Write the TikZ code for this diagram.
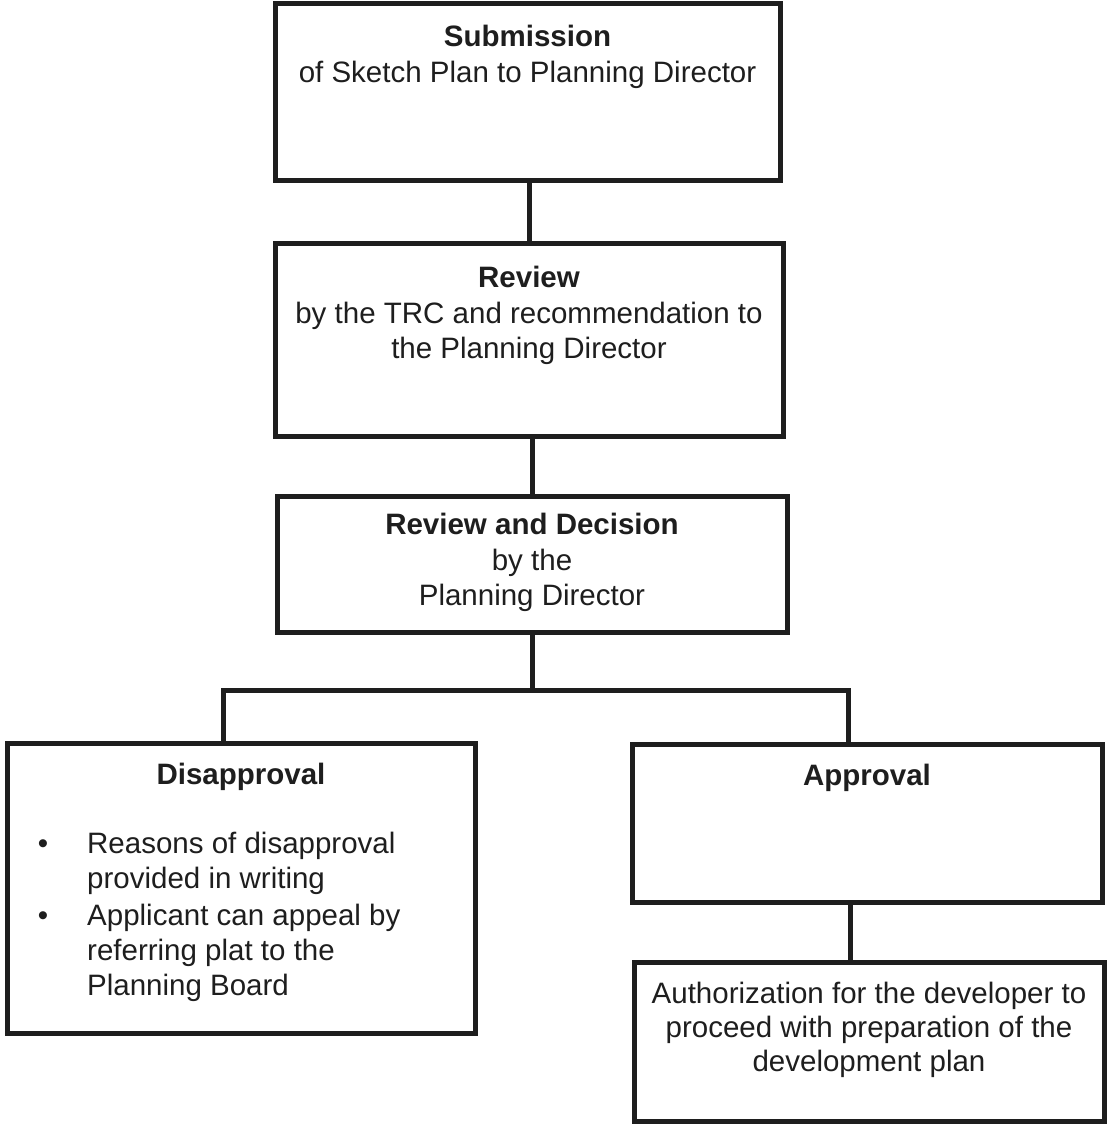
\documentclass[tikz,border=0pt]{standalone}
\usepackage{fontspec}
\setmainfont{Liberation Sans}
\definecolor{ink}{HTML}{1E1E1E}
\begin{document}
\begin{tikzpicture}[x=1pt,y=-1pt,
  box/.style={draw=ink, line width=5pt, rectangle, inner sep=0pt, fill=white},
  conn/.style={draw=ink, line width=5pt},
  txt/.style={anchor=base, inner sep=0pt, text=ink, font=\fontsize{29.5}{36}\selectfont},
  hd/.style={txt, font=\fontsize{29.5}{36}\selectfont\bfseries}]
\useasboundingbox (0,0) rectangle (1110,1125);
\fill[white] (0,0) rectangle (1110,1125);

% boxes
\node[box, minimum width=505pt, minimum height=177pt] (b1) at (527.5,91.5) {};
\node[box, minimum width=508pt, minimum height=193pt] (b2) at (529,339.5) {};
\node[box, minimum width=510pt, minimum height=136pt] (b3) at (532,564) {};
\node[box, minimum width=468pt, minimum height=290pt] (b4) at (241,888) {};
\node[box, minimum width=470pt, minimum height=158pt] (b5) at (867,823) {};
\node[box, minimum width=470pt, minimum height=159pt] (b6) at (869,1041.5) {};

% connectors
\coordinate (split) at (532,690);
\draw[conn] (b2.north) -- (b2.north |- b1.south);
\draw[conn] (b3.north) -- (b3.north |- b2.south);
\draw[conn] (b3.south) -- (split);
\draw[conn] ([xshift=-18pt]b4.north) |- (split) -| ([xshift=-19pt]b5.north);
\draw[conn] ([xshift=-19pt]b6.north) -- ([xshift=-19pt]b6.north |- b5.south);

% texts box 1
\node[hd] (t1a) at (527.5,46) {Submission};
\node[txt] (t1b) at (527.5,82) {of Sketch Plan to Planning Director};
% box 2
\node[hd] (t2a) at (529,287) {Review};
\node[txt] (t2b) at (529,323) {by the TRC and recommendation to};
\node[txt] (t2c) at (529,358) {the Planning Director};
% box 3
\node[hd] (t3a) at (532,534) {Review and Decision};
\node[txt] (t3b) at (532,570) {by the};
\node[txt] (t3c) at (532,605) {Planning Director};
% box 4
\node[hd] (t4a) at (241,784) {Disapproval};
\node[txt] (bu1) at (43,853) {\textbullet};
\node[txt, anchor=base west] (t4b) at (87,853) {Reasons of disapproval};
\node[txt, anchor=base west] (t4c) at (87,888) {provided in writing};
\node[txt] (bu2) at (43,925) {\textbullet};
\node[txt, anchor=base west] (t4d) at (87,925) {Applicant can appeal by};
\node[txt, anchor=base west] (t4e) at (87,960) {referring plat to the};
\node[txt, anchor=base west] (t4f) at (87,995) {Planning Board};
% box 5
\node[hd] (t5a) at (867,785) {Approval};
% box 6
\node[txt] (t6a) at (869,1003) {Authorization for the developer to};
\node[txt] (t6b) at (869,1037) {proceed with preparation of the};
\node[txt] (t6c) at (869,1071) {development plan};
\end{tikzpicture}
\end{document}
